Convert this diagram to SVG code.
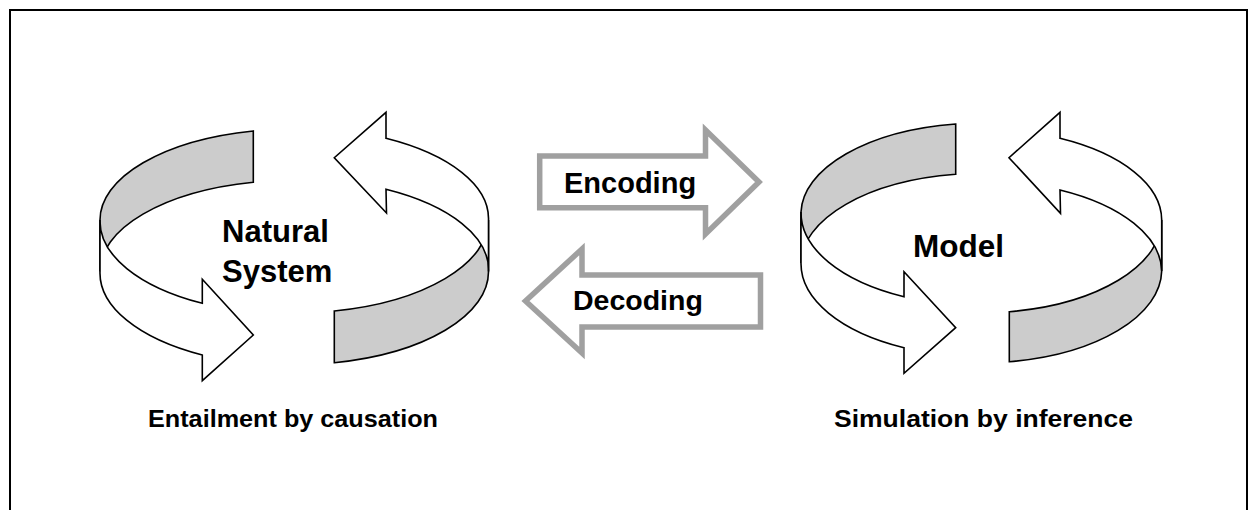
<svg xmlns="http://www.w3.org/2000/svg" width="1258" height="510" viewBox="0 0 1258 510">
<style>
.band{stroke:#000;stroke-width:1.6;stroke-linejoin:miter}
.gray{fill:#cccccc}
.white{fill:#ffffff}
.blk{stroke:#a0a0a0;stroke-width:5.5;fill:#ffffff;stroke-linejoin:miter}
.t{font-family:"Liberation Sans",Arial,sans-serif;font-weight:bold;fill:#000}
</style>
<rect x="0" y="0" width="1258" height="510" fill="#ffffff"/>
<rect id="frame" x="10" y="10" width="1237" height="520" fill="none" stroke="#000" stroke-width="2"/>
<g id="natural-system">
<path class="band gray" d="M253.3,131 A194,91 0 0 0 100,220 L100,271.5 A194,91 0 0 1 253.3,182.3 Z"/>
<path class="band white" d="M100,220 A194,93 0 0 0 202.3,303.3 L202.3,279.3 L253.3,335 L202.3,380.7 L202.3,355 A194,93 0 0 1 100,271.5 Z"/>
<path class="band gray" d="M334.3,311 A194,93 0 0 0 488.5,220 L488.5,271.5 A194,93 0 0 1 334.3,362.7 Z"/>
<path class="band white" d="M386,138.3 L386,112.3 L334.3,157.7 L386.5,213 L386,189.3 A194,91 0 0 1 488.5,271.5 L488.5,220 A194,91 0 0 0 386,138.3 Z"/>
<text class="t" x="222" y="241.5" font-size="31">Natural</text>
<text class="t" x="222" y="282" font-size="31">System</text>
<text class="t" x="148" y="427" font-size="24" textLength="290" lengthAdjust="spacingAndGlyphs">Entailment by causation</text>
</g>
<g id="model">
<path class="band gray" d="M955.7,124 A181,91 0 0 0 801,212 L801,263 A181,91 0 0 1 955.7,174.3 Z"/>
<path class="band white" d="M801,212 A181,93 0 0 0 904,296.7 L904,271.7 L955.7,327.7 L904,373.3 L904,347.7 A181,93 0 0 1 801,263 Z"/>
<path class="band gray" d="M1009.3,311.7 A181,93 0 0 0 1161.7,220 L1161.7,271 A181,93 0 0 1 1009.3,361.7 Z"/>
<path class="band white" d="M1060,138.3 L1060,112.3 L1009,157.7 L1060.5,213.3 L1060,190 A181,91 0 0 1 1161.7,271 L1161.7,220 A181,91 0 0 0 1060,138.3 Z"/>
<text class="t" x="913" y="257" font-size="31.5">Model</text>
<text class="t" x="834" y="427" font-size="24" textLength="299" lengthAdjust="spacingAndGlyphs">Simulation by inference</text>
</g>
<g id="connectors">
<g id="encoding">
<path class="blk" d="M539.7,156 L705.5,156 L705.5,130 L759,182 L705.5,234 L705.5,207.7 L539.7,207.7 Z"/>
<text class="t" x="564" y="192.5" font-size="29">Encoding</text>
</g>
<g id="decoding">
<path class="blk" d="M760.5,275 L582,275 L582,249 L525.5,301 L582,353 L582,327 L760.5,327 Z"/>
<text class="t" x="573" y="309.5" font-size="28.5">Decoding</text>
</g>
</g>
</svg>
